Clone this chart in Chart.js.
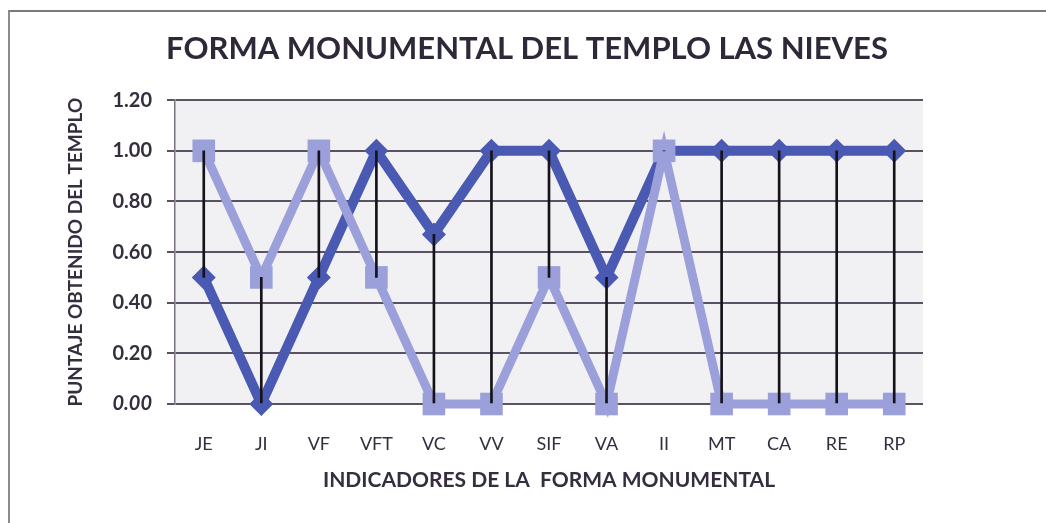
<!DOCTYPE html>
<html>
<head>
<meta charset="utf-8">
<script src="https://cdn.jsdelivr.net/npm/chart.js@4/dist/chart.umd.min.js"></script>
<style>
  html, body { margin: 0; padding: 0; background: #ffffff; }
  #wrap { position: relative; width: 1046px; height: 523px; overflow: hidden; }
  #frame { position: absolute; left: 8px; top: 10px; right: -4px; bottom: -4px;
           border-left: 2px solid #8c8c8c; border-top: 2px solid #7a7a7a; }
  canvas { position: absolute; left: 0; top: 0; }
</style>
</head>
<body>
<div id="wrap">
  <div id="frame"></div>
  <canvas id="chart" width="1046" height="523"></canvas>
</div>
<script>
// Indicators on the x axis
const categories = ['JE', 'JI', 'VF', 'VFT', 'VC', 'VV', 'SIF', 'VA', 'II', 'MT', 'CA', 'RE', 'RP'];
// Score series (dark diamonds and light squares)
const seriesDark  = [0.50, 0.00, 0.50, 1.00, 0.67, 1.00, 1.00, 0.50, 1.00, 1.00, 1.00, 1.00, 1.00];
const seriesLight = [1.00, 0.50, 1.00, 0.50, 0.00, 0.00, 0.50, 0.00, 1.00, 0.00, 0.00, 0.00, 0.00];
// Value axis ticks
const yTicks = [0.00, 0.20, 0.40, 0.60, 0.80, 1.00, 1.20];

// High-low connectors between the two series at each indicator
const hiLow = categories.map((c, i) => [
  Math.min(seriesDark[i], seriesLight[i]),
  Math.max(seriesDark[i], seriesLight[i])
]);

const FONT = "Lato, 'Open Sans', sans-serif";
const TEXT = '#352e3e';

const plotBackground = {
  id: 'plotBackground',
  beforeDraw(chart) {
    const { ctx, chartArea: a } = chart;
    ctx.save();
    ctx.fillStyle = '#f1f1f3';
    ctx.fillRect(a.left, a.top, a.right - a.left, a.bottom - a.top);
    ctx.restore();
  }
};

new Chart(document.getElementById('chart'), {
  type: 'line',
  data: {
    labels: categories,
    datasets: [
      {
        type: 'bar',
        data: hiLow,
        backgroundColor: '#15121a',
        borderWidth: 0,
        barThickness: 2,
        order: 0
      },
      {
        data: seriesLight,
        borderColor: '#9ca0da',
        backgroundColor: '#9ca0da',
        borderWidth: 9,
        pointStyle: 'rect',
        pointRadius: 16,
        pointBorderWidth: 0,
        pointBackgroundColor: '#9ca0da',
        tension: 0,
        clip: false,
        order: 1
      },
      {
        data: seriesDark,
        borderColor: '#4a5ab3',
        backgroundColor: '#4a5ab3',
        borderWidth: 10,
        pointStyle: 'rectRot',
        pointRadius: 12,
        pointBorderWidth: 0,
        pointBackgroundColor: '#4a5ab3',
        tension: 0,
        clip: false,
        order: 2
      }
    ]
  },
  options: {
    responsive: false,
    animation: false,
    devicePixelRatio: 1,
    layout: { padding: { left: 8, right: 0, top: 0, bottom: 0 } },
    plugins: {
      legend: { display: false },
      tooltip: { enabled: false },
      title: {
        display: true,
        text: 'FORMA MONUMENTAL DEL TEMPLO LAS NIEVES',
        color: '#2e2838',
        font: { family: FONT, size: 31, weight: 'bold', lineHeight: 1.2 },
        padding: { top: 30, bottom: 33 }
      }
    },
    scales: {
      x: {
        offset: true,
        grid: { display: false },
        border: { display: false },
        ticks: {
          color: TEXT,
          font: { family: FONT, size: 18 },
          padding: 21,
          maxRotation: 0,
          autoSkip: false
        },
        title: {
          display: true,
          text: 'INDICADORES DE LA  FORMA MONUMENTAL',
          color: TEXT,
          font: { family: FONT, size: 21, weight: 'bold', lineHeight: 1.2 },
          padding: { top: 10, bottom: 30 }
        },
        afterFit(scale) { scale.height = 119; }
      },
      y: {
        min: 0,
        max: 1.2,
        afterBuildTicks(scale) { scale.ticks = yTicks.map(v => ({ value: v })); },
        grid: { color: '#5a5262', lineWidth: 2, tickLength: 8, drawTicks: true },
        border: { display: true, color: '#7a7282', width: 1.5 },
        ticks: {
          color: TEXT,
          padding: 15,
          callback: v => v.toFixed(2),
          font: ctx => ({
            family: FONT,
            size: 20,
            weight: 'bold',
            style: ctx.tick && ctx.tick.value === 0 ? 'italic' : 'normal'
          })
        },
        title: {
          display: true,
          text: 'PUNTAJE OBTENIDO DEL TEMPLO',
          color: TEXT,
          font: { family: FONT, size: 19, weight: 'bold', lineHeight: 1.2 },
          padding: { top: 56, bottom: 10 }
        },
        afterFit(scale) { scale.width = 167; }
      },
      // empty right-hand margin axis so the plot ends where the frame's inner area does
      yRight: {
        position: 'right',
        display: true,
        grid: { display: false },
        border: { display: false },
        ticks: { display: false },
        afterFit(scale) { scale.width = 123; }
      }
    }
  },
  plugins: [plotBackground]
});
</script>
</body>
</html>
